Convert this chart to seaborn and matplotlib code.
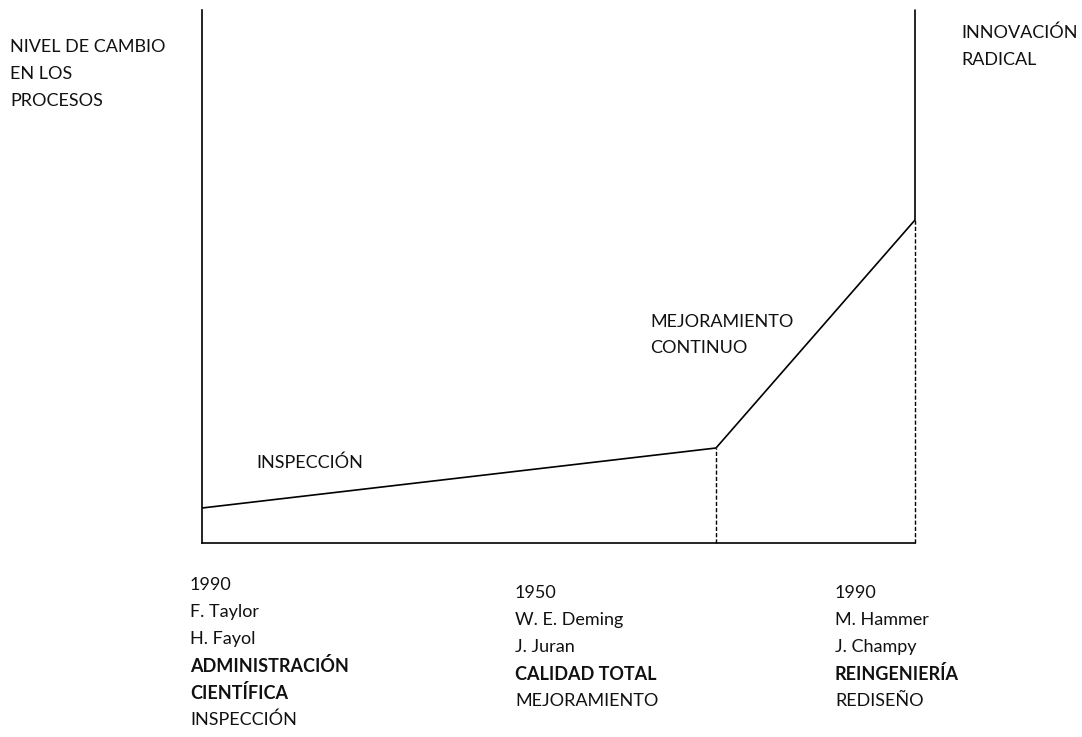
import matplotlib
matplotlib.use("Agg")
import matplotlib.pyplot as plt
import seaborn as sns
import pandas as pd

# Stages of process change (x = time position, y = level of change)
stage_x = [0, 514, 713]
stage_level = [35, 95, 323]
axis_top = 533

y_label_lines = ["NIVEL DE CAMBIO", "EN LOS", "PROCESOS"]
top_right_lines = ["INNOVACIÓN", "RADICAL"]
mid_label_lines = ["MEJORAMIENTO", "CONTINUO"]
low_label = "INSPECCIÓN"

# bottom columns: lines plus which of them are bold
col_admin = ["1990", "F. Taylor", "H. Fayol", "ADMINISTRACIÓN", "CIENTÍFICA", "INSPECCIÓN"]
col_admin_bold = [3, 4]
col_calidad = ["1950", "W. E. Deming", "J. Juran", "CALIDAD TOTAL", "MEJORAMIENTO"]
col_calidad_bold = [3]
col_reing = ["1990", "M. Hammer", "J. Champy", "REINGENIERÍA", "REDISEÑO"]
col_reing_bold = [3]

W, H = 1082, 737
sns.set_theme(style="white")
plt.rcParams["font.family"] = ["Lato", "DejaVu Sans"]

fig = plt.figure(figsize=(W / 100, H / 100), dpi=100)
ax = fig.add_axes([202 / W, 1 - 543 / H, (915 - 202) / W, (543 - 10) / H])

df = pd.DataFrame({"x": stage_x, "y": stage_level})
sns.lineplot(data=df, x="x", y="y", ax=ax, color="black", linewidth=1.2)

# dashed drop lines from the break points
for xv, yv in zip(stage_x[1:], stage_level[1:]):
    ax.plot([xv, xv], [0, yv], color="black", linestyle=(0, (3, 1.5)),
            linewidth=1.0, clip_on=False)
# solid upper part of the right boundary
ax.plot([stage_x[-1], stage_x[-1]], [stage_level[-1], axis_top], color="black",
        linewidth=1.2, clip_on=False)

ax.set_xlim(0, stage_x[-1])
ax.set_ylim(0, axis_top)
ax.set_xticks([])
ax.set_yticks([])
ax.set_xlabel("")
ax.set_ylabel("")
for side in ["top", "right"]:
    ax.spines[side].set_visible(False)
for side in ["left", "bottom"]:
    ax.spines[side].set_color("black")
    ax.spines[side].set_linewidth(1.2)

FS = 13


def put_lines(x, y0, lines, bold=(), step=27):
    for i, t in enumerate(lines):
        fig.text(x / W, 1 - (y0 + i * step) / H, t, fontsize=FS, va="center", ha="left",
                 color="#111111", fontweight="bold" if i in bold else "normal")


put_lines(10, 47, y_label_lines)
put_lines(961, 33, top_right_lines)
put_lines(650, 322, mid_label_lines, step=26)
put_lines(256, 463, [low_label])
put_lines(190, 585, col_admin, col_admin_bold)
put_lines(515, 593, col_calidad, col_calidad_bold)
put_lines(835, 593, col_reing, col_reing_bold)

fig.savefig("out.png", dpi=100, facecolor="white")
